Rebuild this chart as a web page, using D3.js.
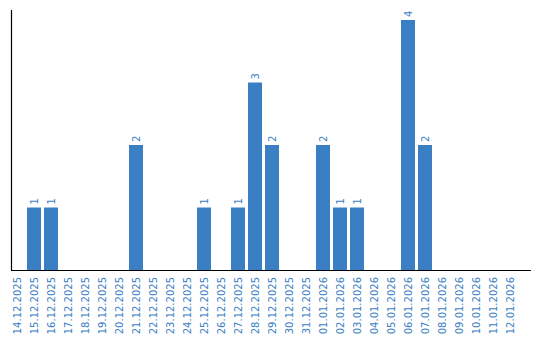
<!DOCTYPE html>
<html>
<head>
<meta charset="utf-8">
<script src="https://cdn.jsdelivr.net/npm/d3@7"></script>
<style>
  body { margin: 0; background: #fff; }
  text { font-family: "DejaVu Sans", sans-serif; }
</style>
</head>
<body>
<script>
// dates shown on the x axis
var days = ["14.12.2025","15.12.2025","16.12.2025","17.12.2025","18.12.2025","19.12.2025",
  "20.12.2025","21.12.2025","22.12.2025","23.12.2025","24.12.2025","25.12.2025","26.12.2025",
  "27.12.2025","28.12.2025","29.12.2025","30.12.2025","31.12.2025","01.01.2026","02.01.2026",
  "03.01.2026","04.01.2026","05.01.2026","06.01.2026","07.01.2026","08.01.2026","09.01.2026",
  "10.01.2026","11.01.2026","12.01.2026"];
// count per day
var counts = [0,1,1,0,0,0,0,2,0,0,0,1,0,1,3,2,0,0,2,1,1,0,0,4,2,0,0,0,0,0];

var width = 540, height = 340;
var blue = "#3a7ec3";

var svg = d3.select("body").append("svg")
    .attr("width", width)
    .attr("height", height);

var x = d3.scaleBand()
    .domain(days)
    .range([10, 517])
    .paddingInner(3/17)
    .paddingOuter(0);

var y = d3.scaleLinear()
    .domain([0, 4])
    .range([270, 20]);

var data = days.map(function(d, i){ return {day: d, n: counts[i]}; });

// bars
svg.selectAll("rect.bar")
    .data(data.filter(function(d){ return d.n > 0; }))
  .enter().append("rect")
    .attr("class", "bar")
    .attr("x", function(d){ return x(d.day); })
    .attr("y", function(d){ return y(d.n); })
    .attr("width", x.bandwidth())
    .attr("height", function(d){ return y(0) - y(d.n); })
    .attr("fill", blue);

// value labels, rotated
svg.selectAll("text.val")
    .data(data.filter(function(d){ return d.n > 0; }))
  .enter().append("text")
    .attr("class", "val")
    .attr("transform", function(d){
      return "translate(" + (x(d.day) + x.bandwidth()/2 + 3.5) + "," + (y(d.n) - 3) + ") rotate(-90)";
    })
    .attr("font-size", 10)
    .attr("fill", blue)
    .text(function(d){ return d.n; });

// x axis labels
var xAxis = d3.axisBottom(x).tickSize(0).tickPadding(0);
var gx = svg.append("g")
    .attr("transform", "translate(0,270)")
    .call(xAxis);
gx.select(".domain").remove();
gx.selectAll("text")
    .attr("font-size", 10)
    .attr("font-family", "DejaVu Sans, sans-serif")
    .attr("fill", blue)
    .attr("text-anchor", "end")
    .attr("dy", null)
    .attr("y", 0)
    .attr("transform", "translate(3.5,7) rotate(-90)");

// axis lines
svg.append("line")
    .attr("x1", 11.5).attr("x2", 11.5)
    .attr("y1", 10).attr("y2", 270)
    .attr("stroke", "#000")
    .attr("stroke-width", 1.2);
svg.append("line")
    .attr("x1", 11).attr("x2", 531)
    .attr("y1", 270.5).attr("y2", 270.5)
    .attr("stroke", "#000")
    .attr("stroke-width", 1.2);
</script>
</body>
</html>
